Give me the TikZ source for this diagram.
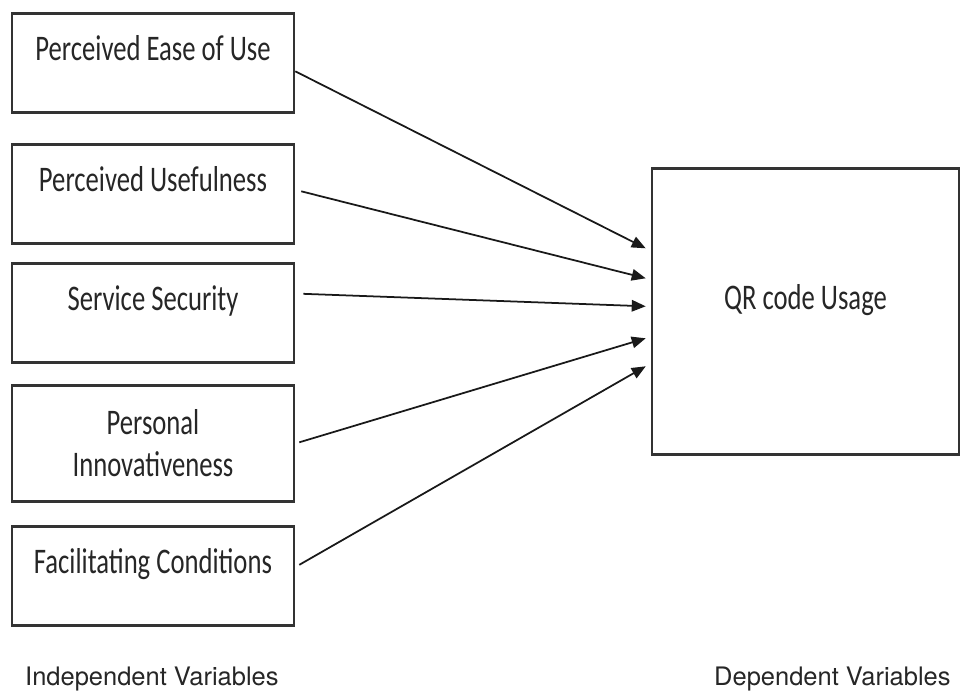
\documentclass[tikz,border=0pt]{standalone}
\usepackage{fontspec}
\setmainfont{TeX Gyre Heros}
\newfontfamily\boxfont{Carlito}[FakeStretch=0.74]
\usetikzlibrary{arrows.meta, positioning}

\begin{document}
\begin{tikzpicture}[
    x=0.02cm, y=-0.02cm,
    >={Triangle[length=2.8mm, width=2.3mm]},
    var/.style={rectangle, draw=black!80, line width=1.5pt,
                minimum width=56.4mm, inner xsep=0pt, inner ysep=0pt,
                font=\boxfont\fontsize{20.5}{24}\selectfont,
                text=black!85, align=center},
    oneline/.style={anchor=north, text height=9.4mm, text depth=10.4mm},
    link/.style={->, line width=1pt, black!90},
    caption/.style={font=\fontsize{14.5}{17}\selectfont, text=black!85,
                    anchor=base west},
]
\useasboundingbox (0,0) rectangle (963,691);

% ---------------------------------------------------------------
%  Independent variables
% ---------------------------------------------------------------
\node[var, oneline] (ease) at (153,12) {Perceived Ease of Use};
\node[var, oneline] (useful) at (153,143) {Perceived Usefulness};
\node[var, oneline] (secur) at (153,262) {Service Security};
\node[var, anchor=north, minimum height=23.2mm] (innov) at (153,384)
    {Personal\\Innovativeness};
\node[var, oneline] (facil) at (153,525) {Facilitating Conditions};

% ---------------------------------------------------------------
%  Dependent variable
% ---------------------------------------------------------------
\node[var, anchor=north, minimum width=61.4mm, text height=28.2mm,
      text depth=29mm] (qr) at (805.5,167) {QR code Usage};

% Links
\draw[link] ([yshift=-1.7mm]ease.east) -- ([shift={(-1mm,12.6mm)}]qr.west);
\draw[link] ([shift={(1.2mm,0.5mm)}]useful.east) -- ([shift={(-1mm,6.6mm)}]qr.west);
\draw[link] ([shift={(1.6mm,3.8mm)}]secur.east) -- ([shift={(-1mm,1mm)}]qr.west);
\draw[link] ([shift={(0.8mm,0.2mm)}]innov.east) -- ([shift={(-1mm,-5.4mm)}]qr.west);
\draw[link] ([shift={(0.8mm,2.2mm)}]facil.east) -- ([shift={(-1mm,-11mm)}]qr.west);

% Captions
\node[caption] (indep) at (19,685) {Independent Variables};
\node[caption] (depen) at (708,685) {Dependent Variables};
\end{tikzpicture}
\end{document}
